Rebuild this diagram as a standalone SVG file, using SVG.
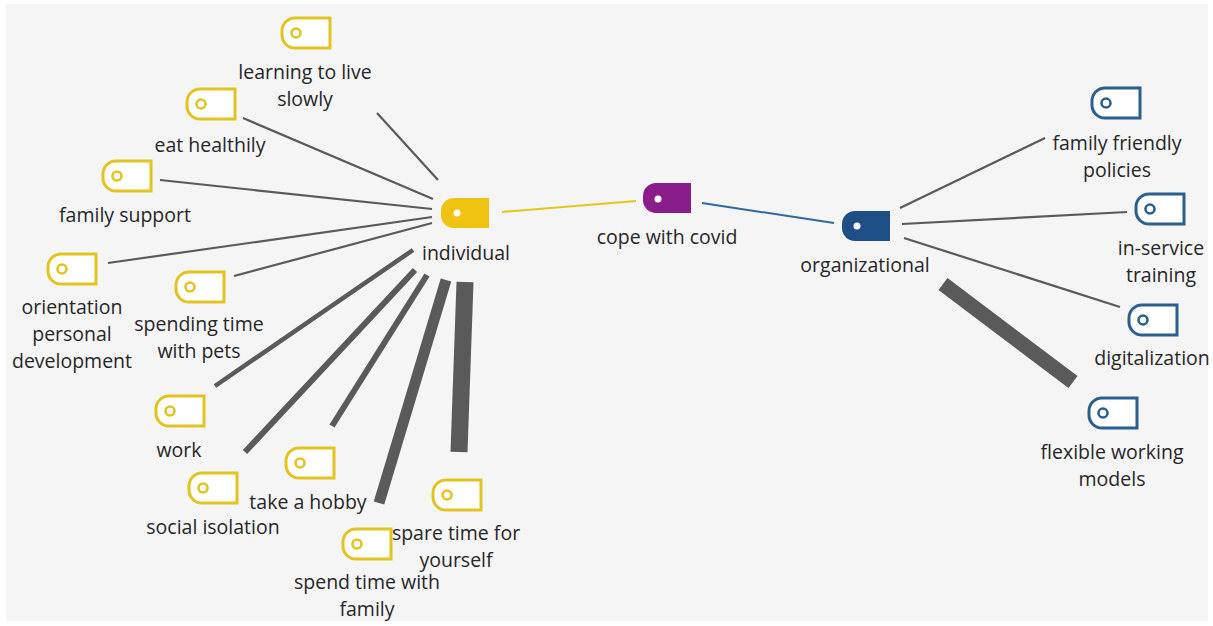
<svg xmlns="http://www.w3.org/2000/svg" width="1213" height="626" viewBox="0 0 1213 626">
<defs>
<style>
text{font-family:"Open Sans","Noto Sans","Liberation Sans",sans-serif;font-size:19.5px;fill:#262626;text-anchor:middle}
.ty{fill:#ffffff;stroke:#e3c320;stroke-width:3}
.tyc{fill:none;stroke:#e3c320;stroke-width:2.6}
.tb{fill:#ffffff;stroke:#2b5f92;stroke-width:3}
.tbc{fill:none;stroke:#2b5f92;stroke-width:2.6}
.ln{stroke:#5a5a5a;fill:none}
</style>
<path id="tag" d="M13,0 H48 V30 H13 A13 13 0 0 1 0,17 V13 A13 13 0 0 1 13,0 Z"/>
</defs>
<rect x="0" y="0" width="1213" height="626" fill="#ffffff"/>
<rect x="6" y="4" width="1202" height="617" fill="#f5f5f6"/>

<g id="connectors">
<line x1="502" y1="212" x2="636" y2="201" stroke="#e5c61e" stroke-width="2"/>
<line x1="702" y1="203" x2="834" y2="223" stroke="#2c6aa2" stroke-width="2"/>
<line class="ln" x1="377" y1="113" x2="438" y2="180" stroke-width="2.2"/>
<line class="ln" x1="243" y1="118" x2="433" y2="199" stroke-width="2.2"/>
<line class="ln" x1="160" y1="180" x2="432" y2="209" stroke-width="2.2"/>
<line class="ln" x1="108" y1="263" x2="432" y2="217" stroke-width="2.2"/>
<line class="ln" x1="234" y1="276" x2="432" y2="223" stroke-width="2.2"/>
<line class="ln" x1="215" y1="386" x2="413" y2="250" stroke-width="4.5"/>
<line class="ln" x1="245" y1="452" x2="415" y2="270" stroke-width="6"/>
<line class="ln" x1="332" y1="426" x2="427" y2="275" stroke-width="6"/>
<line class="ln" x1="379" y1="503" x2="446" y2="280" stroke-width="11"/>
<line class="ln" x1="465" y1="282" x2="459" y2="452" stroke-width="17"/>
<line class="ln" x1="900" y1="208" x2="1045" y2="138" stroke-width="2.2"/>
<line class="ln" x1="902" y1="224" x2="1127" y2="212" stroke-width="2.2"/>
<line class="ln" x1="904" y1="238" x2="1120" y2="307" stroke-width="2.2"/>
<line class="ln" x1="943" y1="284" x2="1073" y2="382" stroke-width="15"/>
</g>

<g id="cope">
<use href="#tag" transform="translate(643,183)" fill="#8a1c8c"/>
<circle cx="658" cy="199" r="3.5" fill="#ffffff"/>
<text x="667" y="244">cope with covid</text>
</g>

<g id="individual">
<use href="#tag" transform="translate(441,198)" fill="#f0c310"/>
<circle cx="457" cy="213" r="3.5" fill="#ffffff"/>
<text x="466" y="260">individual</text>
</g>

<g id="organizational">
<use href="#tag" transform="translate(842,211)" fill="#1d4e86"/>
<circle cx="857" cy="226" r="3.5" fill="#ffffff"/>
<text x="865" y="272">organizational</text>
</g>

<g id="learning">
<use href="#tag" class="ty" transform="translate(282,18)"/>
<circle class="tyc" cx="296" cy="33" r="4.5"/>
<text x="305" y="79">learning to live</text>
<text x="305" y="106">slowly</text>
</g>

<g id="eat">
<use href="#tag" class="ty" transform="translate(187,89)"/>
<circle class="tyc" cx="201" cy="104" r="4.5"/>
<text x="210" y="152">eat healthily</text>
</g>

<g id="familysupport">
<use href="#tag" class="ty" transform="translate(103,161)"/>
<circle class="tyc" cx="117" cy="176" r="4.5"/>
<text x="125" y="222">family support</text>
</g>

<g id="orientation">
<use href="#tag" class="ty" transform="translate(48,254)"/>
<circle class="tyc" cx="62" cy="269" r="4.5"/>
<text x="72" y="314">orientation</text>
<text x="72" y="341">personal</text>
<text x="72" y="368">development</text>
</g>

<g id="pets">
<use href="#tag" class="ty" transform="translate(176,272)"/>
<circle class="tyc" cx="190" cy="287" r="4.5"/>
<text x="199" y="331">spending time</text>
<text x="199" y="358">with pets</text>
</g>

<g id="work">
<use href="#tag" class="ty" transform="translate(156,396)"/>
<circle class="tyc" cx="170" cy="411" r="4.5"/>
<text x="179" y="457">work</text>
</g>

<g id="social">
<use href="#tag" class="ty" transform="translate(189,473)"/>
<circle class="tyc" cx="203" cy="488" r="4.5"/>
<text x="213" y="534">social isolation</text>
</g>

<g id="hobby">
<use href="#tag" class="ty" transform="translate(286,448)"/>
<circle class="tyc" cx="300" cy="463" r="4.5"/>
<text x="308" y="509">take a hobby</text>
</g>

<g id="spendfamily">
<use href="#tag" class="ty" transform="translate(343,529)"/>
<circle class="tyc" cx="357" cy="544" r="4.5"/>
<text x="367" y="589">spend time with</text>
<text x="367" y="616">family</text>
</g>

<g id="spare">
<use href="#tag" class="ty" transform="translate(433,480)"/>
<circle class="tyc" cx="447" cy="495" r="4.5"/>
<text x="456" y="540">spare time for</text>
<text x="456" y="567">yourself</text>
</g>

<g id="familyfriendly">
<use href="#tag" class="tb" transform="translate(1092,88)"/>
<circle class="tbc" cx="1106" cy="103" r="4.5"/>
<text x="1117" y="150">family friendly</text>
<text x="1117" y="177">policies</text>
</g>

<g id="inservice">
<use href="#tag" class="tb" transform="translate(1136,194)"/>
<circle class="tbc" cx="1150" cy="209" r="4.5"/>
<text x="1161" y="255">in-service</text>
<text x="1161" y="282">training</text>
</g>

<g id="digitalization">
<use href="#tag" class="tb" transform="translate(1129,305)"/>
<circle class="tbc" cx="1143" cy="320" r="4.5"/>
<text x="1152" y="365">digitalization</text>
</g>

<g id="flexible">
<use href="#tag" class="tb" transform="translate(1089,398)"/>
<circle class="tbc" cx="1103" cy="413" r="4.5"/>
<text x="1112" y="459">flexible working</text>
<text x="1112" y="486">models</text>
</g>
</svg>
